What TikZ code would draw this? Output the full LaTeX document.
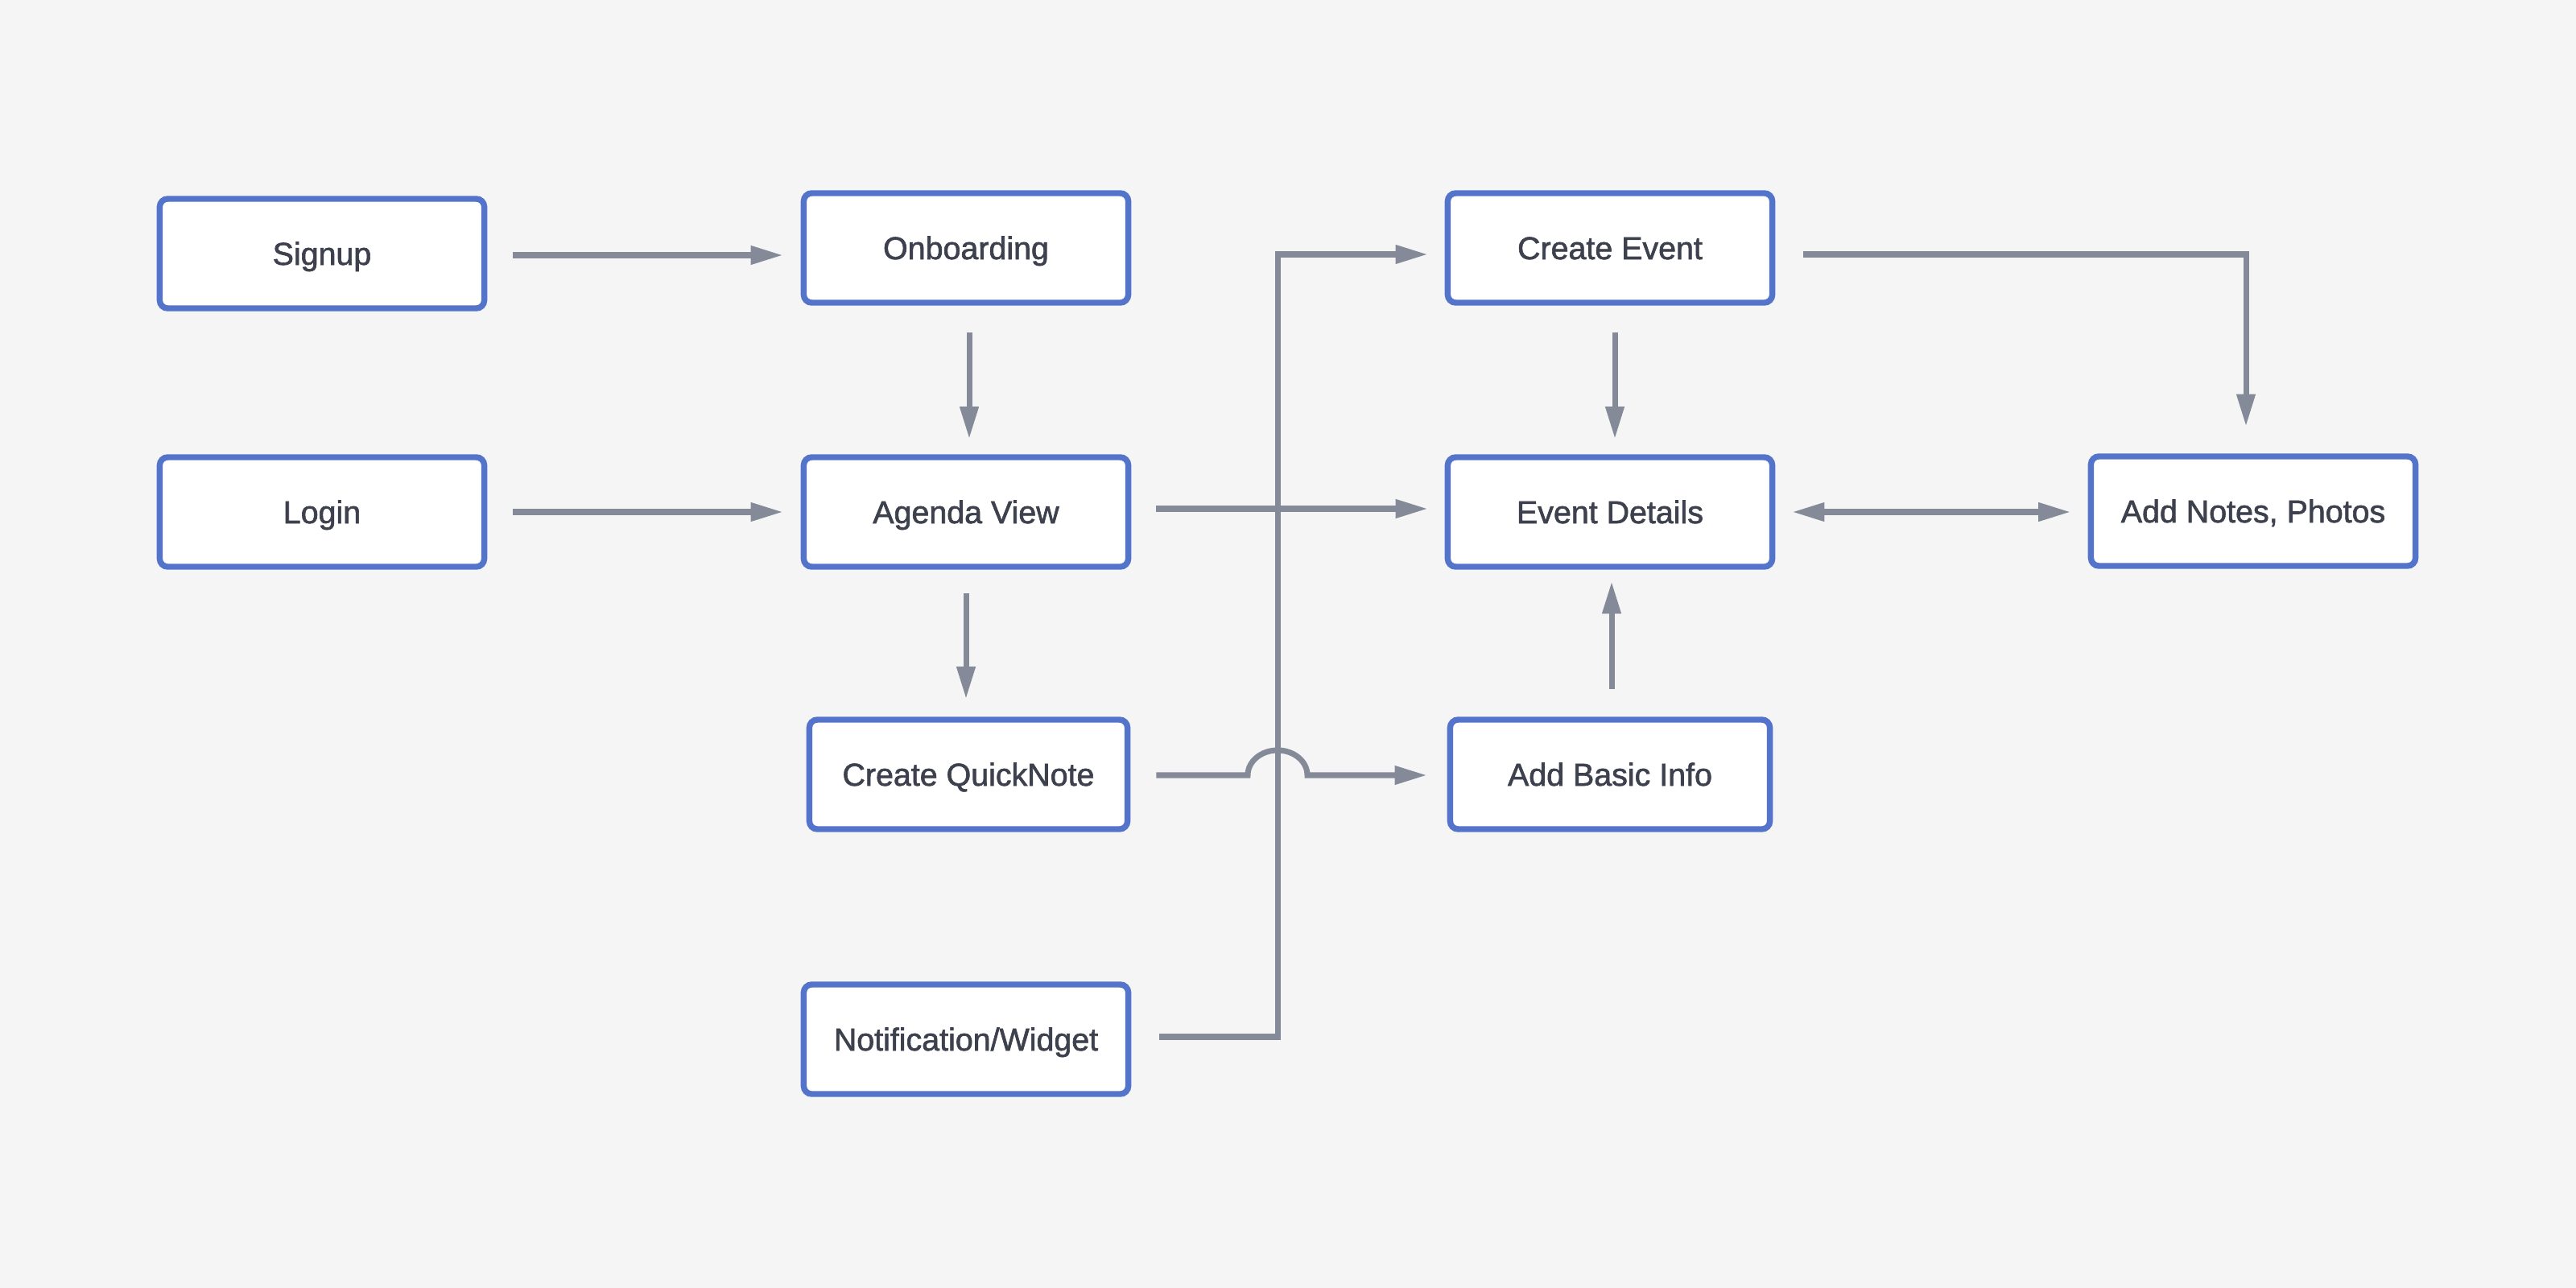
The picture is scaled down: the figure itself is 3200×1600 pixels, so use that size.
\documentclass[tikz,border=0pt]{standalone}
\usepackage{fontspec}
\setmainfont{Liberation Sans}
\newfontfamily\boxfont{Liberation Sans}[FakeBold=1.6]
\usetikzlibrary{arrows.meta,calc}
\definecolor{bgc}{HTML}{F5F5F5}
\definecolor{bordc}{HTML}{5474CC}
\definecolor{connc}{HTML}{858A99}
\definecolor{txtc}{HTML}{3D414D}
\begin{document}
\begin{tikzpicture}[x=0.01cm,y=-0.01cm,
  box/.style={draw=bordc, fill=white, line width=2.1pt, rounded corners=0.1cm,
    minimum width=4.03cm, minimum height=1.36cm, text=txtc, inner sep=0pt,
    text height=0.28cm, text depth=0pt,
    font=\boxfont\fontsize{11.2}{13}\selectfont},
  conn/.style={draw=connc, line width=2pt, -{Triangle[length=0.4cm,width=0.22cm]}},
  bconn/.style={draw=connc, line width=2pt, {Triangle[length=0.4cm,width=0.22cm]}-{Triangle[length=0.4cm,width=0.22cm]}},
]
\fill[bgc] (0,0) rectangle (3200,1600);
\useasboundingbox (0,0) rectangle (3200,1600);

\node[box] (signup) at (400,315) {Signup};
\node[box] (onb) at (1200,308) {Onboarding};
\node[box] (login) at (400,636) {Login};
\node[box] (agenda) at (1200,636) {Agenda View};
\node[box, minimum width=3.95cm] (qn) at (1203,962) {Create QuickNote};
\node[box] (notif) at (1200,1291) {Notification/Widget};
\node[box] (ce) at (2000,308) {Create Event};
\node[box] (ed) at (2000,636) {Event Details};
\node[box, minimum width=3.97cm] (abi) at (2000,962) {Add Basic Info};
\node[box] (an) at (2799,635) {Add Notes, Photos};

\coordinate (hop) at (1587,963);
\coordinate (jog) at (1587,316);

% Signup -> Onboarding
\draw[conn] ([xshift=0.32cm,yshift=-0.02cm]signup.east) -- ([xshift=-0.22cm,yshift=-0.02cm]signup.east -| onb.west);
% Onboarding -> Agenda
\draw[conn] ([xshift=0.04cm,yshift=-0.33cm]onb.south) -- ([xshift=0.04cm,yshift=0.19cm]onb.south |- agenda.north);
% Login -> Agenda
\draw[conn] ([xshift=0.32cm]login.east) -- ([xshift=-0.22cm]agenda.west);
% Agenda -> QuickNote
\draw[conn] ([yshift=-0.29cm]agenda.south) -- ([yshift=0.22cm]agenda.south |- qn.north);
% Agenda -> Event Details
\draw[conn] ([xshift=0.31cm,yshift=0.04cm]agenda.east) -- ([xshift=-0.21cm,yshift=0.04cm]ed.west);
% Create Event -> Event Details
\draw[conn] ([xshift=0.06cm,yshift=-0.33cm]ce.south) -- ([xshift=0.06cm,yshift=0.19cm]ce.south |- ed.north);
% Create Event -> Add Notes
\draw[conn] ([xshift=0.35cm,yshift=-0.08cm]ce.east) -| ([xshift=-0.09cm,yshift=0.335cm]an.north);
% Event Details <-> Add Notes
\draw[bconn] ([xshift=0.21cm]ed.east) -- ([xshift=-0.215cm]ed.east -| an.west);
% Add Basic Info -> Event Details
\draw[conn] ([xshift=0.02cm,yshift=0.345cm]abi.north) -- ([xshift=0.02cm,yshift=-0.145cm]abi.north |- ed.south);
% QuickNote -> Add Basic Info (with hop)
\draw[conn] ([xshift=0.32cm,yshift=-0.01cm]qn.east) -- ([xshift=-0.37cm]hop)
  arc[start angle=180, end angle=0, x radius=0.37cm, y radius=0.31cm]
  -- ([xshift=-0.25cm]hop -| abi.west);
% Notification -> Create Event
\draw[conn] ([xshift=0.35cm,yshift=0.03cm]notif.east) -| (jog) -- ([xshift=-0.21cm]jog -| ce.west);
\end{tikzpicture}
\end{document}
